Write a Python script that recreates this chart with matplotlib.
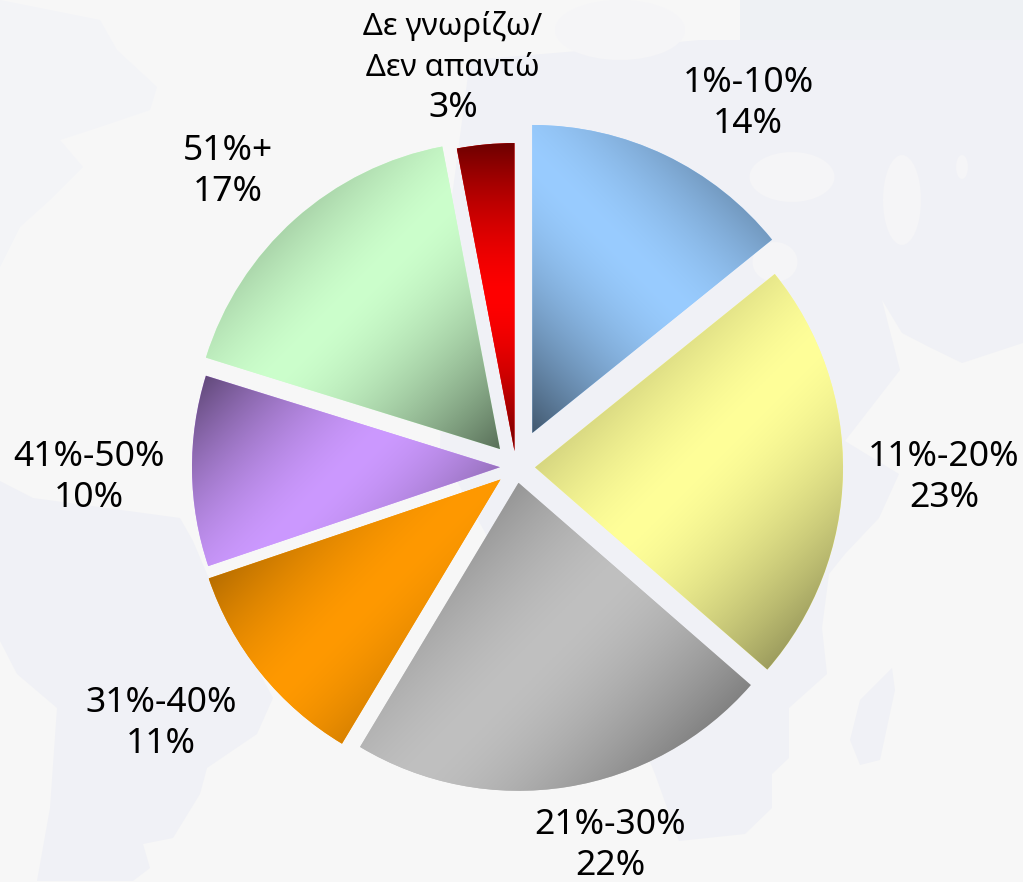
import matplotlib
matplotlib.use("Agg")
import matplotlib.pyplot as plt
import numpy as np
from matplotlib.colors import to_rgb
from matplotlib.patches import Polygon, Ellipse

# shares measured from the slice angles, finer than the rounded labels
categories = ["1%-10%", "11%-20%", "21%-30%", "31%-40%", "41%-50%", "51%+", "Δε γνωρίζω/\nΔεν απαντώ"]
shares = [14.2, 22.2, 22.2, 11.2, 10.0, 17.2, 3.0]
percent_labels = ["14%", "23%", "22%", "11%", "10%", "17%", "3%"]
colors = ["#99CCFF", "#FFFF99", "#C0C0C0", "#FF9900", "#CC99FF", "#CCFFCC", "#FF0000"]
explode_px = [37.7, 19, 16, 20, 16, 24, 16]
grad_axis = [(1, -1), (1, 1), (1, 1), (1, 1), (1, 1), (1, 1), (0, 1)]
label_x = [748, 944, 610, 161, 89, 228, 453]
label_baseline = [133, 507, 875, 753, 507, 201, 117]
name_size = [25.5, 25.5, 25.5, 25.5, 25.5, 25.5, 22.4]

W, H = 1023, 882
CENTER = (516, 467)
RADIUS = 308
DARK = 0.43
LINE_STEP = 41
BG = "#F7F7F7"
LAND = "#F0F1F6"

plt.rcParams["font.family"] = ["Noto Sans", "DejaVu Sans"]

fig = plt.figure(figsize=(W / 100, H / 100), dpi=100, facecolor=BG)
ax = fig.add_axes([0, 0, 1, 1])

# faint world map behind the pie
land = [
    [(0, 481), (33, 498), (180, 518), (193, 541), (207, 574), (273, 698), (257, 734), (207, 768), (200, 794), (173, 838),
     (143, 844), (150, 868), (133, 881), (37, 881), (50, 808), (57, 708), (17, 674), (0, 641)],
    [(470, 60), (590, 50), (700, 40), (1023, 40), (1023, 343), (962, 363), (929, 347), (902, 333), (882, 300), (900, 370),
     (845, 441), (899, 474), (879, 518), (845, 554), (829, 574), (822, 628), (827, 674), (789, 708), (789, 758), (772, 774),
     (772, 808), (745, 834), (679, 841), (655, 774), (600, 640), (500, 560), (440, 450), (445, 250)],
    [(892, 668), (895, 690), (880, 760), (860, 765), (850, 740), (860, 700)],
]
for shape in land:
    ax.add_patch(Polygon(shape, closed=True, fc=LAND, ec="none", zorder=0))
ax.add_patch(Polygon([(0, 0), (100, 20), (117, 50), (157, 87), (150, 110), (100, 127), (60, 140), (83, 167), (50, 200),
                      (20, 227), (0, 267)], closed=True, fc="#F3F4F7", ec="none", zorder=0))
ax.add_patch(Polygon([(740, 0), (1023, 0), (1023, 40), (740, 40)], closed=True, fc="#EEF1F4", ec="none", zorder=0))
for x, y, w, h in [(792, 177, 85, 50), (902, 200, 38, 90), (962, 167, 12, 24), (775, 262, 45, 40), (620, 30, 130, 60)]:
    ax.add_patch(Ellipse((x, y), w, h, fc="#F5F5F7", ec="none", zorder=0.5))

wedges, _ = ax.pie(
    shares,
    explode=explode_px,
    colors=colors,
    center=CENTER,
    radius=RADIUS,
    startangle=-90,
    counterclock=True,
    frame=False,
)

# three stop gradient across each slice's bounding box: dark, colour, dark
for wedge, color, (dx, dy) in zip(wedges, colors, grad_axis):
    box = wedge.get_path().get_extents(wedge.get_patch_transform())
    xs = np.linspace(box.x0, box.x1, 400)
    ys = np.linspace(box.y0, box.y1, 400)
    gx, gy = np.meshgrid(xs, ys)
    proj = dx * gx + dy * gy
    t = np.abs(proj - (proj.min() + proj.max()) / 2) / ((proj.max() - proj.min()) / 2)
    shade = 1 - (1 - DARK) * t ** 1.6
    rgb = np.dstack([shade * c for c in to_rgb(color)])
    wedge.set_zorder(1)
    im = ax.imshow(rgb, extent=(box.x0, box.x1, box.y1, box.y0), origin="upper", aspect="equal",
                   interpolation="bilinear", zorder=2)
    im.set_clip_path(wedge)

# one text per line so the baselines land where they should
for name, pct, x, y, size in zip(categories, percent_labels, label_x, label_baseline, name_size):
    ax.text(x, y, pct, ha="center", va="baseline", fontsize=25.5, color="black", zorder=3)
    lines = name.split("\n")
    for i, line in enumerate(reversed(lines)):
        ax.text(x, y - (i + 1) * LINE_STEP, line, ha="center", va="baseline", fontsize=size, color="black", zorder=3)

ax.set_xlim(0, W)
ax.set_ylim(H, 0)
ax.set_axis_off()
fig.savefig("out.png", dpi=100, facecolor=BG)
